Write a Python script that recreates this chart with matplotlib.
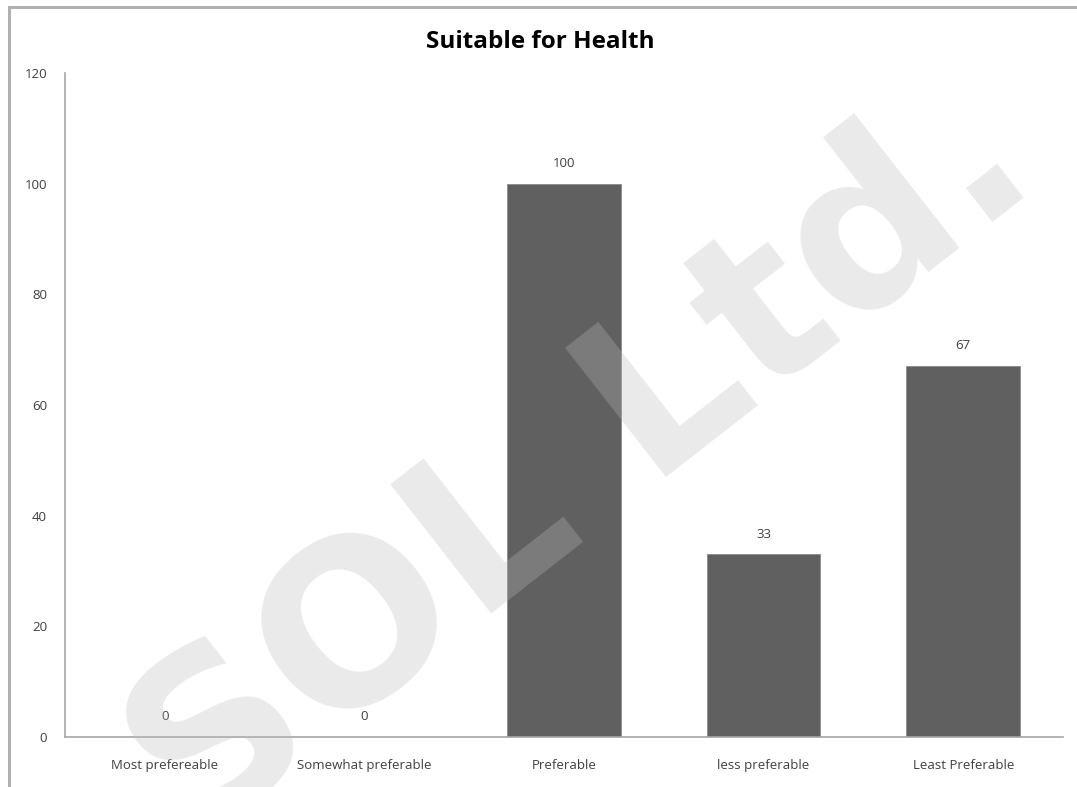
import matplotlib.pyplot as plt
from matplotlib.patches import Rectangle

categorieen = ["Most prefereable", "Somewhat preferable", "Preferable",
               "less preferable", "Least Preferable"]
waarden = [0, 0, 100, 33, 67]
y_ticks = [0, 20, 40, 60, 80, 100, 120]

BALK = "#606060"
TEKST = "#404040"
AS = "#a6a6a6"

plt.rcParams["font.family"] = ["Open Sans", "DejaVu Sans"]

fig = plt.figure(figsize=(10.77, 7.87), dpi=100)
ax = fig.add_axes([0.0604, 0.0635, 0.9266, 0.8437])

# kader om de hele grafiek (loopt rechts en onder buiten beeld)
fig.patches.append(Rectangle((9 / 1077, -0.05), 1.1, 0.05 + 1 - 7 / 787,
                             transform=fig.transFigure, fill=False,
                             edgecolor="#b0b0b0", linewidth=2.2))

x = list(range(len(categorieen)))
ax.bar(x, waarden, width=0.57, color=BALK, edgecolor="#8a8a8a",
       linewidth=0.6, zorder=2)

for xi, w in zip(x, waarden):
    ax.annotate(str(w), (xi, w), xytext=(0, 10), textcoords="offset points",
                ha="center", va="bottom", fontsize=9.5, color=TEKST)

ax.set_xlim(-0.5, len(categorieen) - 0.5)
ax.set_ylim(0, 120)
ax.set_yticks(y_ticks)
ax.set_xticks(x)
ax.set_xticklabels(categorieen)
ax.tick_params(axis="both", length=0, labelsize=9.5, labelcolor=TEKST)
ax.tick_params(axis="x", pad=16)
ax.tick_params(axis="y", pad=13)

for kant in ("top", "right"):
    ax.spines[kant].set_visible(False)
for kant in ("left", "bottom"):
    ax.spines[kant].set_color(AS)
    ax.spines[kant].set_linewidth(1.2)

fig.text(0.502, 0.947, "Suitable for Health", ha="center", va="center",
         fontsize=17.5, fontweight="bold", color="black")

# watermerk schuin over de grafiek
fig.text(0.54, 0.41, "SOL Ltd.", ha="center", va="center", rotation=38,
         fontsize=162, fontweight="bold", color="#bbbbbb", alpha=0.3,
         family=["DejaVu Sans"], zorder=10)

fig.savefig("out.png", dpi=100)
